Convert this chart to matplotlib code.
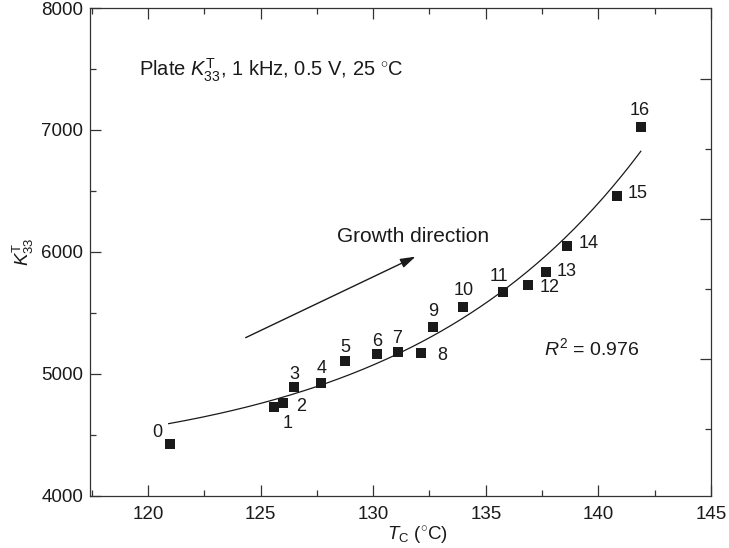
import numpy as np
import matplotlib.pyplot as plt
from matplotlib.ticker import MultipleLocator, FixedLocator, NullFormatter

plt.rcParams['font.family'] = ['Liberation Sans', 'DejaVu Sans']
plt.rcParams['mathtext.fontset'] = 'custom'
plt.rcParams['mathtext.rm'] = 'Liberation Sans'
plt.rcParams['mathtext.it'] = 'Liberation Sans:italic'
plt.rcParams['font.size'] = 13

# Curie temperature vs. dielectric constant along the crystal
sample_id = [str(i) for i in range(17)]
tc = [120.96, 125.59, 125.99, 126.48, 127.67, 128.77, 130.18, 131.08, 132.12,
      132.67, 134.0, 135.77, 136.89, 137.65, 138.62, 140.81, 141.88]
k33 = [4426, 4727, 4765, 4891, 4929, 5107, 5162, 5178, 5170,
       5383, 5552, 5672, 5730, 5839, 6052, 6461, 7027]

# label offsets (points) for each sample number
label_dx = [-9, 10, 13, 0, 1, 0, 0, 0, 15, 0, 0, -3, 15, 15, 15, 15, -1]
label_dy = [8, -11.5, -3, 9, 10.5, 10, 9, 10, -1.5, 11, 11.5, 11, -2, 0, 1.5, 1.5, 12]

# exponential fit K = a + b*exp(c*(T - t0))
fit_a, fit_b, fit_c, fit_t0 = 4245.0, 350.6, 0.0956, 121.0
fit_range = (120.92, 141.88)

# extra ticks drawn on the right-hand frame
right_major = [7418, 6270, 5123]
right_minor = [6844, 5697, 4549]

ink = '#1a1a1a'
frame = '#333333'

fig = plt.figure(figsize=(7.29, 5.48), dpi=100)
ax = fig.add_axes([0.1235, 0.0949, 0.8519, 0.8905])

t_fit = np.linspace(*fit_range, 200)
ax.plot(t_fit, fit_a + fit_b * np.exp(fit_c * (t_fit - fit_t0)), color=ink, lw=0.9)
ax.plot(tc, k33, 's', color=ink, ms=6.5, mew=0)

for s, x, y, dx, dy in zip(sample_id, tc, k33, label_dx, label_dy):
    ax.annotate(s, (x, y), xytext=(dx, dy), textcoords='offset points',
                ha='center', va='center', color=ink)

ax.annotate('', xy=(131.88, 5962), xytext=(124.34, 5298),
            arrowprops=dict(arrowstyle='-|>,head_length=0.7,head_width=0.22',
                            color=ink, lw=1.0, shrinkA=0, shrinkB=0))
ax.text(128.4, 6123, 'Growth direction', ha='left', va='center', color=ink, fontsize=15)
ax.text(119.62, 7492, r'Plate $K_{33}^{\mathrm{T}}$, 1 kHz, 0.5 V, 25 $^{\circ}$C',
        ha='left', va='center', color=ink, fontsize=14.5)
ax.text(137.6, 5213, r'$R^2$ = 0.976', ha='left', va='center', color=ink, fontsize=14)

ax.set_xlim(117.43, 145)
ax.set_ylim(4000, 8000)
ax.xaxis.set_major_locator(MultipleLocator(5))
ax.xaxis.set_minor_locator(MultipleLocator(2.5))
ax.yaxis.set_major_locator(MultipleLocator(1000))
ax.yaxis.set_minor_locator(MultipleLocator(500))
ax.tick_params(which='both', direction='in', top=True, right=False,
               color=frame, width=0.9, labelcolor=ink, labelsize=13.5)
ax.tick_params(which='major', length=8)
ax.tick_params(which='minor', length=4.3)
ax.tick_params(axis='x', pad=7)
ax.tick_params(axis='y', pad=5)
for sp in ax.spines.values():
    sp.set_color(frame)
    sp.set_linewidth(0.9)

ax.set_xlabel(r'$T_{\mathrm{C}}$ ($^{\circ}$C)', color=ink, fontsize=13.5)
ax.xaxis.set_label_coords(0.527, -0.059)
ax.set_ylabel(r'$K_{33}^{\mathrm{T}}$', color=ink, fontsize=13.5, labelpad=4)

ax2 = ax.twinx()
ax2.set_ylim(ax.get_ylim())
ax2.yaxis.set_major_locator(FixedLocator(right_major))
ax2.yaxis.set_minor_locator(FixedLocator(right_minor))
ax2.yaxis.set_major_formatter(NullFormatter())
ax2.tick_params(which='both', direction='in', color=frame, width=0.9)
ax2.tick_params(which='major', length=8)
ax2.tick_params(which='minor', length=4.3)
for sp in ax2.spines.values():
    sp.set_visible(False)

fig.savefig('out.png', dpi=100)
